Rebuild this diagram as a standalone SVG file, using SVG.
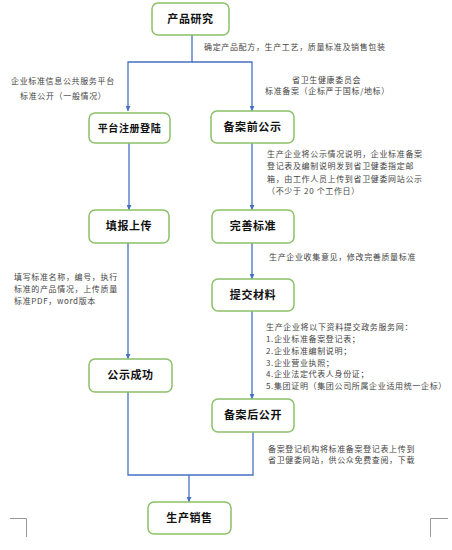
<svg xmlns="http://www.w3.org/2000/svg" width="452" height="550" viewBox="0 0 452 550">
<style>
.node rect{fill:#fff;stroke:#8CC168;stroke-width:1.5}
.node text{font-family:"Noto Sans CJK SC","Noto Sans CJK JP",serif;font-weight:bold;font-size:11px;letter-spacing:0.6px;fill:#111;text-anchor:middle}
.lbl{font-family:"Noto Sans CJK SC","Noto Sans CJK JP",sans-serif;font-size:8px;letter-spacing:0.65px;fill:#444}
.conn path{fill:none;stroke:#4472C4;stroke-width:1.3}
.corner{fill:none;stroke:#999;stroke-width:1}
</style>
<defs>
<marker id="arr" viewBox="0 0 10 10" refX="10" refY="5" markerWidth="5" markerHeight="5" orient="auto" markerUnits="userSpaceOnUse">
<path d="M0,0 L10,5 L0,10 z" fill="#4472C4"/>
</marker>
</defs>
<g class="conn" id="connectors">
<path d="M192,35 V62 H128 V111" marker-end="url(#arr)"/>
<path d="M192,62 H252 V111" marker-end="url(#arr)"/>
<path d="M129,143 V210" marker-end="url(#arr)"/>
<path d="M252,143 V210" marker-end="url(#arr)"/>
<path d="M252,243 V279" marker-end="url(#arr)"/>
<path d="M252,311 V399" marker-end="url(#arr)"/>
<path d="M128,243 V359" marker-end="url(#arr)"/>
<path d="M128,392 V475 H253 V432"/>
<path d="M189,475 V502" marker-end="url(#arr)"/>
</g>
<g class="node" id="n1"><rect x="152" y="3" width="77" height="32" rx="6"/><text x="190.5" y="23">产品研究</text></g>
<g class="node" id="n2"><rect x="89" y="113" width="81" height="30" rx="6"/><text x="129.5" y="132" style="font-size:10px">平台注册登陆</text></g>
<g class="node" id="n3"><rect x="211" y="111" width="83" height="32" rx="6"/><text x="252.5" y="131">备案前公示</text></g>
<g class="node" id="n4"><rect x="89" y="210" width="80" height="33" rx="6"/><text x="129" y="230">填报上传</text></g>
<g class="node" id="n5"><rect x="212" y="210" width="82" height="33" rx="6"/><text x="253" y="230">完善标准</text></g>
<g class="node" id="n6"><rect x="212" y="279" width="82" height="32" rx="6"/><text x="253" y="299">提交材料</text></g>
<g class="node" id="n7"><rect x="89" y="359" width="83" height="33" rx="6"/><text x="130.5" y="379">公示成功</text></g>
<g class="node" id="n8"><rect x="212" y="399" width="82" height="33" rx="6"/><text x="253" y="419">备案后公开</text></g>
<g class="node" id="n9"><rect x="148" y="502" width="83" height="32" rx="6"/><text x="189.5" y="522">生产销售</text></g>
<g id="labels">
<text class="lbl" x="204" y="50">确定产品配方，生产工艺，质量标准及销售包装</text>
<text class="lbl" x="11" y="84">企业标准信息公共服务平台</text>
<text class="lbl" x="20" y="99">标准公开（一般情况）</text>
<text class="lbl" x="292" y="83">省卫生健康委员会</text>
<text class="lbl" x="265" y="94">标准备案（企标严于国标/地标）</text>
<text class="lbl" x="267" y="157">生产企业将公示情况说明，企业标准备案</text>
<text class="lbl" x="267" y="169">登记表及编制说明发到省卫健委指定邮</text>
<text class="lbl" x="267" y="182">箱，由工作人员上传到省卫健委网站公示</text>
<text class="lbl" x="267" y="194">（不少于 20 个工作日）</text>
<text class="lbl" x="269" y="260">生产企业收集意见，修改完善质量标准</text>
<text class="lbl" x="14" y="280">填写标准名称，编号，执行</text>
<text class="lbl" x="14" y="292">标准的产品情况，上传质量</text>
<text class="lbl" x="14" y="304">标准PDF，word版本</text>
<text class="lbl" x="266" y="330">生产企业将以下资料提交政务服务网：</text>
<text class="lbl" x="266" y="342">1.企业标准备案登记表；</text>
<text class="lbl" x="266" y="354">2.企业标准编制说明；</text>
<text class="lbl" x="266" y="365.5">3.企业营业执照；</text>
<text class="lbl" x="266" y="377">4.企业法定代表人身份证；</text>
<text class="lbl" x="266" y="388.5">5.集团证明（集团公司所属企业适用统一企标）</text>
<text class="lbl" x="268" y="452">备案登记机构将标准备案登记表上传到</text>
<text class="lbl" x="268" y="463">省卫健委网站，供公众免费查阅，下载</text>
</g>
<path class="corner" d="M10,518.5 H26.5 V537"/>
<path class="corner" d="M448,518.5 H430.5 V537"/>
</svg>
